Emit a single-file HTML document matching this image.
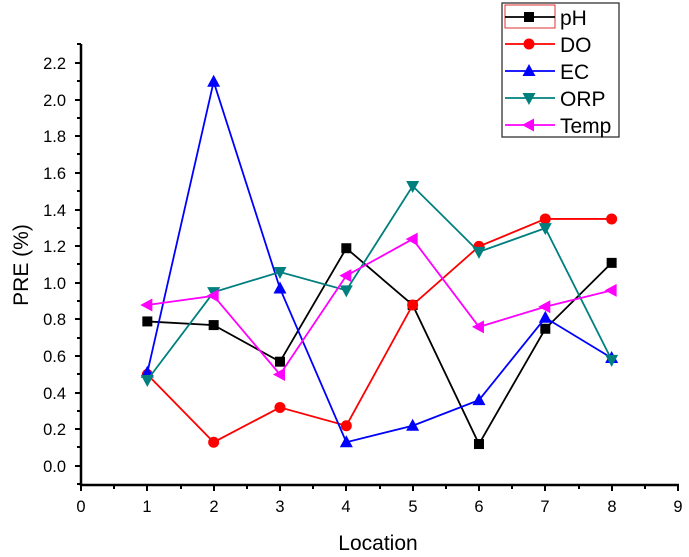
<!DOCTYPE html>
<html><head><meta charset="utf-8"><style>
body{margin:0;background:#fff;}
svg{display:block;font-family:"Liberation Sans",Arial,sans-serif;}
</style></head><body>
<svg id="s" width="689" height="557" viewBox="0 0 689 557">
<g stroke="#000" stroke-width="2.5" fill="none">
<line x1="81" y1="44" x2="81" y2="486"/>
<line x1="80" y1="485" x2="679" y2="485"/>
</g>
<g stroke="#000" stroke-width="2">
<line x1="75" y1="63" x2="81" y2="63"/><line x1="75" y1="100" x2="81" y2="100"/><line x1="75" y1="136" x2="81" y2="136"/><line x1="75" y1="173" x2="81" y2="173"/><line x1="75" y1="210" x2="81" y2="210"/><line x1="75" y1="246" x2="81" y2="246"/><line x1="75" y1="283" x2="81" y2="283"/><line x1="75" y1="319" x2="81" y2="319"/><line x1="75" y1="356" x2="81" y2="356"/><line x1="75" y1="393" x2="81" y2="393"/><line x1="75" y1="429" x2="81" y2="429"/><line x1="75" y1="466" x2="81" y2="466"/>
<line x1="77" y1="44" x2="81" y2="44"/><line x1="77" y1="81" x2="81" y2="81"/><line x1="77" y1="118" x2="81" y2="118"/><line x1="77" y1="154" x2="81" y2="154"/><line x1="77" y1="191" x2="81" y2="191"/><line x1="77" y1="228" x2="81" y2="228"/><line x1="77" y1="264" x2="81" y2="264"/><line x1="77" y1="301" x2="81" y2="301"/><line x1="77" y1="338" x2="81" y2="338"/><line x1="77" y1="374" x2="81" y2="374"/><line x1="77" y1="411" x2="81" y2="411"/><line x1="77" y1="447" x2="81" y2="447"/><line x1="77" y1="484" x2="81" y2="484"/>
<line x1="81" y1="485" x2="81" y2="491"/><line x1="147" y1="485" x2="147" y2="491"/><line x1="214" y1="485" x2="214" y2="491"/><line x1="280" y1="485" x2="280" y2="491"/><line x1="346" y1="485" x2="346" y2="491"/><line x1="413" y1="485" x2="413" y2="491"/><line x1="479" y1="485" x2="479" y2="491"/><line x1="545" y1="485" x2="545" y2="491"/><line x1="612" y1="485" x2="612" y2="491"/><line x1="678" y1="485" x2="678" y2="491"/>
<line x1="114" y1="485" x2="114" y2="489"/><line x1="181" y1="485" x2="181" y2="489"/><line x1="247" y1="485" x2="247" y2="489"/><line x1="313" y1="485" x2="313" y2="489"/><line x1="380" y1="485" x2="380" y2="489"/><line x1="446" y1="485" x2="446" y2="489"/><line x1="512" y1="485" x2="512" y2="489"/><line x1="579" y1="485" x2="579" y2="489"/><line x1="645" y1="485" x2="645" y2="489"/>
</g>
<g font-size="16.5" text-anchor="end" fill="#000">
<text x="66" y="69">2.2</text><text x="66" y="106">2.0</text><text x="66" y="142">1.8</text><text x="66" y="179">1.6</text><text x="66" y="216">1.4</text><text x="66" y="252">1.2</text><text x="66" y="289">1.0</text><text x="66" y="325">0.8</text><text x="66" y="362">0.6</text><text x="66" y="399">0.4</text><text x="66" y="435">0.2</text><text x="66" y="472">0.0</text>
</g>
<g font-size="16.5" text-anchor="middle" fill="#000">
<text x="81" y="512">0</text><text x="147" y="512">1</text><text x="214" y="512">2</text><text x="280" y="512">3</text><text x="346" y="512">4</text><text x="413" y="512">5</text><text x="479" y="512">6</text><text x="545" y="512">7</text><text x="612" y="512">8</text><text x="678" y="512">9</text>
</g>
<text x="378" y="550" font-size="21" text-anchor="middle">Location</text>
<text transform="translate(28,265) rotate(-90)" font-size="21" text-anchor="middle">PRE (%)</text>
<g id="series"></g>
<rect x="502" y="3" width="117" height="134" fill="#fff" stroke="#333" stroke-width="1.3"/>
<rect x="505" y="5" width="50" height="23" fill="none" stroke="#d33" stroke-width="1"/>
<g font-size="21" fill="#000">
<text x="560" y="25">pH</text><text x="560" y="52">DO</text><text x="560" y="79">EC</text><text x="560" y="106">ORP</text><text x="560" y="133">Temp</text>
</g>
<g id="leg"></g>
</svg>
<script>
var S=[["#000","sq",[.79,.77,.57,1.19,.88,.12,.75,1.11]],
["#f00","ci",[.5,.13,.32,.22,.88,1.2,1.35,1.35]],
["#00f","up",[.51,2.1,.97,.13,.22,.36,.81,.59]],
["#007f7f","dn",[.47,.95,1.06,.96,1.53,1.17,1.3,.58]],
["#f0f","lf",[.88,.93,.5,1.04,1.24,.76,.87,.96]]];
function mk(t,x,y,c){if(t=="sq")return '<rect x="'+(x-5)+'" y="'+(y-5)+'" width="10" height="10" fill="'+c+'"/>';
if(t=="ci")return '<circle cx="'+x+'" cy="'+y+'" r="5.5" fill="'+c+'"/>';
var p;if(t=="up")p=[[x,y-7],[x-6.5,y+5],[x+6.5,y+5]];if(t=="dn")p=[[x,y+7],[x-6.5,y-5],[x+6.5,y-5]];if(t=="lf")p=[[x-7,y],[x+5,y-6.5],[x+5,y+6.5]];
return '<polygon points="'+p.map(function(a){return a.join(",")}).join(" ")+'" fill="'+c+'"/>';}
var h="",l="";
S.forEach(function(s,k){var pts=s[2].map(function(v,i){return [81+66.33*(i+1),466-183*v];});
h+='<polyline fill="none" stroke="'+s[0]+'" stroke-width="1.8" points="'+pts.map(function(a){return a.join(",")}).join(" ")+'"/>';
pts.forEach(function(a){h+=mk(s[1],a[0],a[1],s[0]);});
var y=17+27*k;l+='<line x1="505" y1="'+y+'" x2="555" y2="'+y+'" stroke="'+s[0]+'" stroke-width="1.8"/>'+mk(s[1],529,y,s[0]);});
document.getElementById("series").innerHTML=h;document.getElementById("leg").innerHTML=l;
</script>
</body></html>
